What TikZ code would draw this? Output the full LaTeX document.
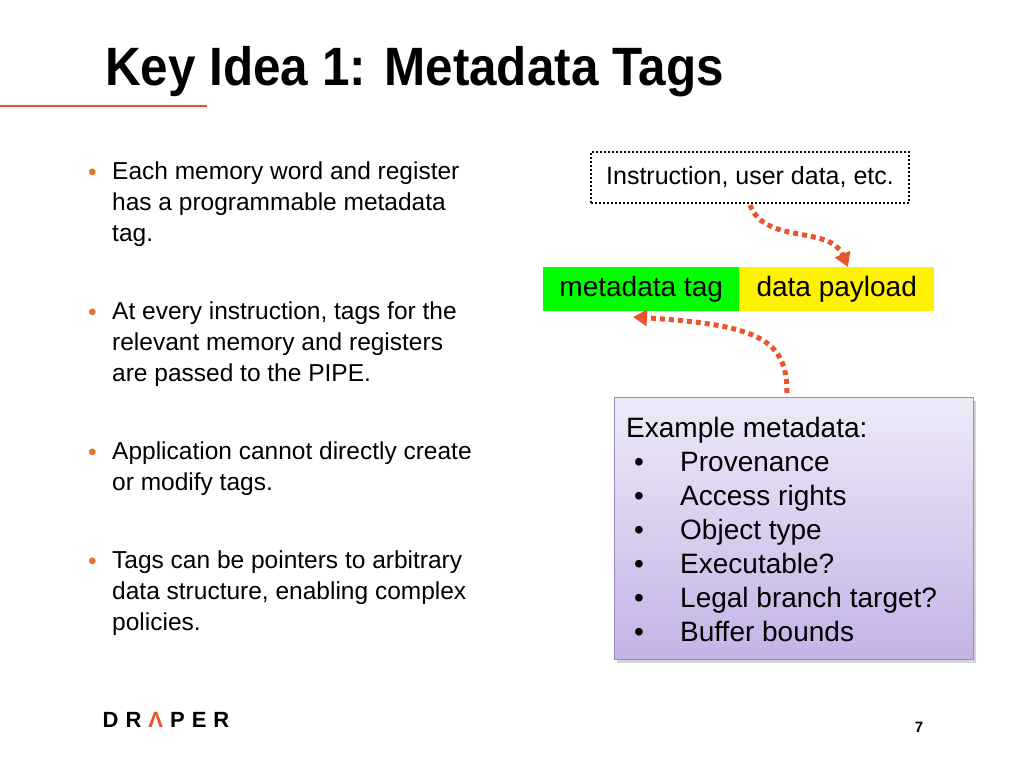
\documentclass[tikz,border=0pt]{standalone}
\usepackage{fontspec}
\setmainfont{Liberation Sans}
\usetikzlibrary{arrows.meta,shadows}
\definecolor{orng}{HTML}{E8542C}
\definecolor{bul}{HTML}{E8742C}
\definecolor{lav1}{HTML}{EEEAF8}
\definecolor{lav2}{HTML}{C4B2E6}
\definecolor{lavb}{HTML}{9A88C8}
\tikzset{
  body/.style={anchor=north west,align=left,font=\fontsize{24.5}{31}\selectfont,inner sep=0pt},
  dotarrow/.style={orng,line width=5pt,dash pattern=on 5pt off 4pt,-{Triangle[length=14pt,width=16pt]}},
  bdot/.style={text=bul,anchor=base west,inner sep=0pt,font=\fontsize{24.5}{31}\selectfont},
  ex/.style={anchor=base west,inner sep=0pt,font=\fontsize{28}{34}\selectfont}
}
\begin{document}
\begin{tikzpicture}[x=1pt,y=-1pt]
\useasboundingbox (0,0) rectangle (1024,768);
\node[anchor=west,inner sep=0pt,font=\fontsize{54}{56}\bfseries\selectfont] (title) at (105,72) {\scalebox{0.915}[1]{Key Idea 1: Metadata Tags}};
\draw[orng,line width=1.2pt] (0,106) -- (207,106);
\foreach \y/\t in {162/{Each memory word and register\\has a programmable metadata\\tag.},
 302/{At every instruction, tags for the\\relevant memory and registers\\are passed to the PIPE.},
 442/{Application cannot directly create\\or modify tags.},
 551/{Tags can be pointers to arbitrary\\data structure, enabling complex\\policies.}}{
 \node[bdot] at (88,\y+18) {•};
 \node[body] at (112,\y) {\t};
}
\node[draw,dotted,line width=2pt,minimum width=318,minimum height=51,font=\fontsize{25}{27}\selectfont] (src) at (750,177) {Instruction, user data, etc.};
\node[fill=green,minimum width=196,minimum height=44,anchor=north west,inner sep=0pt,font=\fontsize{28}{30}\selectfont] (tag) at (543,267) {metadata tag};
\node[fill=yellow,minimum width=195,minimum height=44,anchor=north west,inner sep=0pt,font=\fontsize{28}{30}\selectfont] (pay) at (739,267) {data payload};
\node[draw=lavb,line width=1pt,top color=lav1,bottom color=lav2,minimum width=359,minimum height=262,anchor=north west,drop shadow={opacity=0.35,shadow xshift=2pt,shadow yshift=-3pt}] (ex) at (614,397) {};
\node[ex] (exh) at (626,437) {Example metadata:};
\foreach \i/\t in {1/Provenance,2/Access rights,3/Object type,4/Executable?,5/Legal branch target?,6/Buffer bounds}{
 \node[ex] at (634,437+34*\i) {•};
 \node[ex] at (680,437+34*\i) {\t};
}
\coordinate (a1) at (750,205);
\coordinate (a2) at (848,267);
\draw[dotarrow] (a1) .. controls (765,245) and (830,225) .. (a2);
\coordinate (b1) at (787,393);
\coordinate (b2) at (633,317);
\draw[dotarrow] (b1) .. controls (787,340) and (760,325) .. (b2);
\node[inner sep=0pt,font=\fontsize{22}{24}\bfseries\selectfont] (logo) at (166,720) {D\hspace{7pt}R\hspace{7pt}\textcolor{orng}{Λ}\hspace{7pt}P\hspace{7pt}E\hspace{7pt}R};
\node[inner sep=0pt,font=\fontsize{15}{16}\bfseries\selectfont] (pg) at (919,727) {7};
\end{tikzpicture}
\end{document}
